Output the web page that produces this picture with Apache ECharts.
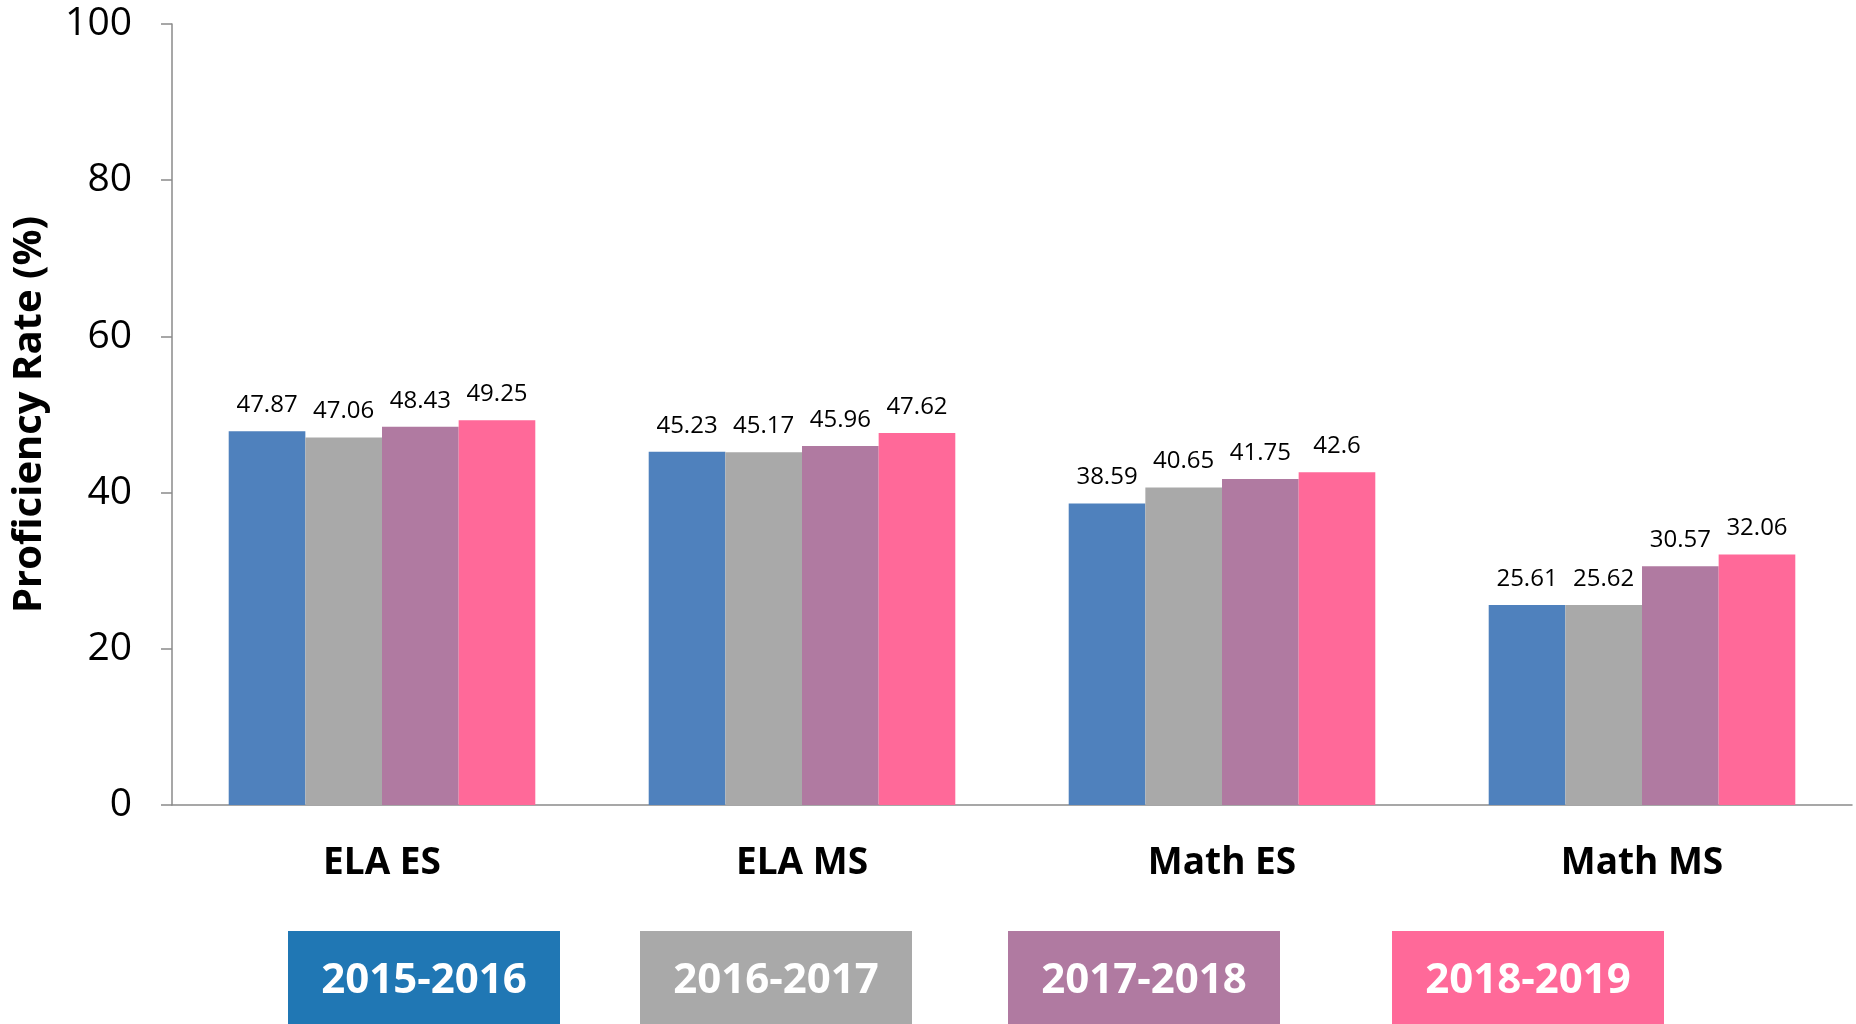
<!DOCTYPE html>
<html>
<head>
<meta charset="utf-8">
<script src="https://cdn.jsdelivr.net/npm/echarts@6/dist/echarts.min.js"></script>
<style>
html,body{margin:0;padding:0;background:#fff;}
#chart{width:1856px;height:1024px;}
</style>
</head>
<body>
<div id="chart"></div>
<script>
const categories = ['ELA ES', 'ELA MS', 'Math ES', 'Math MS'];
const seriesNames = ['2015-2016', '2016-2017', '2017-2018', '2018-2019'];
const v2015 = [47.87, 45.23, 38.59, 25.61];
const v2016 = [47.06, 45.17, 40.65, 25.62];
const v2017 = [48.43, 45.96, 41.75, 30.57];
const v2018 = [49.25, 47.62, 42.6, 32.06];
const yTicks = [0, 20, 40, 60, 80, 100];

const values = [v2015, v2016, v2017, v2018];
const barColors = ['#4F81BD', '#A9A9A9', '#B07AA1', '#FF6999'];
const legendColors = ['#2077B4', '#A9A9A9', '#B07AA1', '#FF6999'];
const legendLefts = [283, 635, 1003, 1387];
const FONT = '"Open Sans", "Noto Sans", sans-serif';

const chart = echarts.init(document.getElementById('chart'));
const option = {
  animation: false,
  backgroundColor: '#fff',
  grid: { left: 172, right: 4, top: 24, bottom: 219, containLabel: false },
  xAxis: {
    type: 'category',
    data: categories,
    axisLine: { lineStyle: { color: '#8A8A8A', width: 1.5 } },
    axisTick: { show: false },
    axisLabel: { color: '#000', fontFamily: FONT, fontWeight: 'bold', fontSize: 37, margin: 40 }
  },
  yAxis: {
    type: 'value',
    min: yTicks[0], max: yTicks[yTicks.length - 1], interval: 20,
    name: 'Proficiency Rate (%)',
    nameLocation: 'middle',
    nameRotate: 90,
    nameGap: 122,
    nameTextStyle: { color: '#000', fontFamily: FONT, fontWeight: 'bold', fontSize: 40 },
    axisLine: { show: true, lineStyle: { color: '#8A8A8A', width: 1.5 } },
    axisTick: { show: true, length: 11, lineStyle: { color: '#8A8A8A', width: 1.5 } },
    splitLine: { show: false },
    axisLabel: { color: '#000', fontFamily: FONT, fontSize: 39, margin: 40 }
  },
  legend: seriesNames.map((n, i) => ({
    data: [n],
    selectedMode: false,
    left: legendLefts[i],
    top: 931,
    padding: 0,
    itemWidth: 0,
    itemHeight: 0,
    icon: 'rect',
    formatter: '{t|{name}}',
    textStyle: {
      rich: {
        t: {
          backgroundColor: legendColors[i],
          color: '#fff',
          fontFamily: FONT,
          fontWeight: 'bold',
          fontSize: 42,
          width: 272,
          height: 100,
          lineHeight: 100,
          align: 'center',
          verticalAlign: 'middle'
        }
      }
    }
  })),
  series: seriesNames.map((n, i) => ({
    name: n,
    type: 'bar',
    data: values[i],
    barGap: '0%',
    barCategoryGap: '27%',
    itemStyle: { color: barColors[i] },
    label: {
      show: true,
      position: 'top',
      distance: 14,
      color: '#000',
      fontFamily: FONT,
      fontSize: 24
    }
  }))
};
chart.setOption(option);
</script>
</body>
</html>
